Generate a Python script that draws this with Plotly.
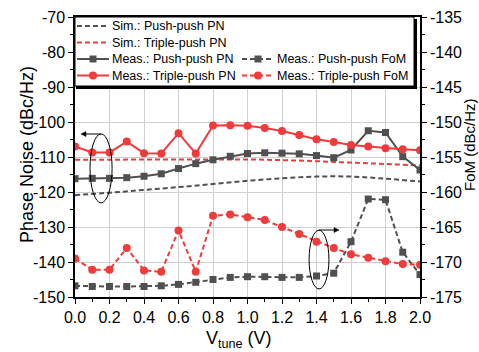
import plotly.graph_objects as go

# ---- data ----
v_meas = [0.0, 0.1, 0.2, 0.3, 0.4, 0.5, 0.6, 0.7, 0.8, 0.9, 1.0,
          1.1, 1.2, 1.3, 1.4, 1.5, 1.6, 1.7, 1.8, 1.9, 2.0]
pp_pn_meas = [-116.2, -116.1, -116.1, -115.9, -115.5, -114.8, -113.3, -111.9, -110.8, -109.8, -109.0,
              -108.8, -108.9, -109.1, -109.6, -110.2, -108.0, -102.5, -103.0, -109.9, -113.7]
tp_pn_meas = [-107.0, -108.7, -108.7, -105.6, -108.9, -109.0, -103.2, -109.0, -101.0, -100.9, -101.1,
              -101.7, -102.6, -103.7, -104.9, -105.7, -106.6, -107.0, -107.5, -107.8, -108.1]
pp_fom_meas = [-173.4, -173.5, -173.5, -173.5, -173.5, -173.4, -173.2, -172.9, -172.5, -172.2, -172.1,
               -172.1, -172.2, -172.2, -172.0, -171.6, -167.1, -161.0, -161.1, -168.6, -171.8]
tp_fom_meas = [-169.5, -171.1, -171.1, -168.0, -171.2, -171.4, -165.5, -171.4, -163.4, -163.2, -163.6,
               -164.0, -165.0, -166.0, -167.1, -168.0, -168.9, -169.4, -169.9, -170.3, -170.4]

v_sim = [0.0, 0.2, 0.4, 0.6, 0.8, 1.0, 1.2, 1.4, 1.6, 1.8, 2.0]
pp_pn_sim = [-120.9, -120.2, -119.4, -118.6, -117.7, -116.8, -116.1, -115.6, -115.6, -116.2, -117.0]
tp_pn_sim = [-110.8, -110.8, -110.7, -110.7, -110.7, -110.7, -110.9, -111.2, -111.6, -112.0, -112.4]

x_ticks = [0.0, 0.2, 0.4, 0.6, 0.8, 1.0, 1.2, 1.4, 1.6, 1.8, 2.0]
x_labels = ["0.0", "0.2", "0.4", "0.6", "0.8", "1.0", "1.2", "1.4", "1.6", "1.8", "2.0"]
pn_ticks = [-70, -80, -90, -100, -110, -120, -130, -140, -150]
pn_labels = ["-70", "-80", "-90", "-100", "-110", "-120", "-130", "-140", "-150"]
fom_ticks = [-135, -140, -145, -150, -155, -160, -165, -170, -175]
fom_labels = ["-135", "-140", "-145", "-150", "-155", "-160", "-165", "-170", "-175"]

legend_names = ["Sim.: Push-push PN", "Sim.: Triple-push PN",
                "Meas.: Push-push PN", "Meas.: Triple-push PN",
                "Meas.: Push-push FoM", "Meas.: Triple-push FoM"]

# ---- style ----
GRAY = "#505050"
RED = "#EF3B3B"
FONT = "Arial, Liberation Sans, sans-serif"
DASH = "5px,3px"

W, H = 479, 352
ML, MR, MT, MB = 75, 59, 17, 55
PW, PH = W - ML - MR, H - MT - MB


def px(x):
    return (x - ML) / PW


def py(y):
    return (H - MB - y) / PH


fig = go.Figure()

fig.add_trace(go.Scatter(x=v_sim, y=pp_pn_sim, mode="lines", line=dict(color=GRAY, width=2, dash=DASH, shape="spline"),
                         name=legend_names[0], showlegend=False))
fig.add_trace(go.Scatter(x=v_sim, y=tp_pn_sim, mode="lines", line=dict(color=RED, width=2, dash=DASH, shape="spline"),
                         name=legend_names[1], showlegend=False))
fig.add_trace(go.Scatter(x=v_meas, y=pp_pn_meas, mode="lines+markers", line=dict(color=GRAY, width=2),
                         marker=dict(symbol="square", size=7, color=GRAY), name=legend_names[2], showlegend=False))
fig.add_trace(go.Scatter(x=v_meas, y=tp_pn_meas, mode="lines+markers", line=dict(color=RED, width=2),
                         marker=dict(symbol="circle", size=8, color=RED), name=legend_names[3], showlegend=False))
fig.add_trace(go.Scatter(x=v_meas, y=pp_fom_meas, mode="lines+markers", yaxis="y2",
                         line=dict(color=GRAY, width=2, dash=DASH),
                         marker=dict(symbol="square", size=7, color=GRAY), name=legend_names[4], showlegend=False))
fig.add_trace(go.Scatter(x=v_meas, y=tp_fom_meas, mode="lines+markers", yaxis="y2",
                         line=dict(color=RED, width=2, dash=DASH),
                         marker=dict(symbol="circle", size=8, color=RED), name=legend_names[5], showlegend=False))

shapes = []
annotations = []

# legend box with drop shadow
shapes.append(dict(type="rect", xref="paper", yref="paper", layer="above",
                   x0=px(76), x1=px(417), y0=py(89), y1=py(19),
                   fillcolor="black", line=dict(width=0)))
shapes.append(dict(type="rect", xref="paper", yref="paper", layer="above",
                   x0=px(75), x1=px(414), y0=py(86), y1=py(17),
                   fillcolor="white", line=dict(color="black", width=1)))

legend_style = [
    (GRAY, DASH, None),
    (RED, DASH, None),
    (GRAY, "solid", "square"),
    (RED, "solid", "circle"),
    (GRAY, DASH, "square"),
    (RED, DASH, "circle"),
]
legend_pos = [(77, 26), (77, 42.5), (77, 59), (77, 75.5), (242, 59), (242, 75.5)]
for name, (col, dash, sym), (lx, ly) in zip(legend_names, legend_style, legend_pos):
    shapes.append(dict(type="line", xref="paper", yref="paper", layer="above",
                       x0=px(lx), x1=px(lx + 32), y0=py(ly), y1=py(ly),
                       line=dict(color=col, width=2, dash=dash)))
    cx = lx + 16
    if sym == "square":
        shapes.append(dict(type="rect", xref="paper", yref="paper", layer="above",
                           x0=px(cx - 3.5), x1=px(cx + 3.5), y0=py(ly + 3.5), y1=py(ly - 3.5),
                           fillcolor=col, line=dict(width=0)))
    elif sym == "circle":
        shapes.append(dict(type="circle", xref="paper", yref="paper", layer="above",
                           x0=px(cx - 4), x1=px(cx + 4), y0=py(ly + 4), y1=py(ly - 4),
                           fillcolor=col, line=dict(width=0)))
    annotations.append(dict(xref="paper", yref="paper", x=px(lx + 33), y=py(ly),
                            xanchor="left", yanchor="middle", showarrow=False,
                            text=name, font=dict(family=FONT, size=12.5, color="black")))


def arrow(x_tail, x_head, y, length_px=5, half_px=2.5):
    """Horizontal arrow in pixel space: a line plus a filled triangular head."""
    d = 1 if x_head > x_tail else -1
    shapes.append(dict(type="line", xref="paper", yref="paper",
                       x0=px(x_tail), x1=px(x_head - d * length_px), y0=py(y), y1=py(y),
                       line=dict(color="black", width=1)))
    path = "M {} {} L {} {} L {} {} Z".format(
        px(x_head), py(y),
        px(x_head - d * length_px), py(y - half_px),
        px(x_head - d * length_px), py(y + half_px))
    shapes.append(dict(type="path", xref="paper", yref="paper", path=path,
                       fillcolor="black", line=dict(color="black", width=0.5)))


# ellipses grouping each curve set with its axis
shapes.append(dict(type="circle", xref="x", yref="y", x0=0.087, x1=0.215, y0=-123.1, y1=-103.4,
                   line=dict(color="black", width=1)))
shapes.append(dict(type="circle", xref="x", yref="y", x0=1.357, x1=1.472, y0=-147.7, y1=-130.9,
                   line=dict(color="black", width=1)))
arrow(101, 81, 134)
arrow(319, 339, 230)

# axis titles
annotations.append(dict(xref="paper", yref="paper", x=px(27), y=py(155), text="Phase Noise (dBc/Hz)",
                        textangle=-90, showarrow=False, xanchor="center", yanchor="middle",
                        font=dict(family=FONT, size=18, color="black")))
annotations.append(dict(xref="paper", yref="paper", x=px(469), y=py(145), text="FoM (dBc/Hz)",
                        textangle=-90, showarrow=False, xanchor="center", yanchor="middle",
                        font=dict(family=FONT, size=15, color="black")))
annotations.append(dict(xref="paper", yref="paper", x=px(239), y=py(339), text="V<sub>tune</sub> (V)",
                        showarrow=False, xanchor="center", yanchor="middle",
                        font=dict(family=FONT, size=18, color="black")))

fig.update_layout(
    width=W, height=H,
    margin=dict(l=ML, r=MR, t=MT, b=MB, autoexpand=False),
    paper_bgcolor="white", plot_bgcolor="white",
    font=dict(family=FONT, size=16, color="black"),
    showlegend=False,
    shapes=shapes,
    annotations=annotations,
    xaxis=dict(range=[0, 2.0], tickvals=x_ticks, ticktext=x_labels,
               showgrid=True, gridcolor="#D0D0D0", gridwidth=1,
               showline=True, linecolor="black", linewidth=1.5, mirror=True,
               ticks="outside", ticklen=5, tickwidth=1.2, tickcolor="black",
               minor=dict(dtick=0.1, ticks="outside", ticklen=3, tickcolor="black", showgrid=False),
               zeroline=False),
    yaxis=dict(range=[-150, -70], tickvals=pn_ticks, ticktext=pn_labels,
               showgrid=True, gridcolor="#D0D0D0", gridwidth=1,
               showline=True, linecolor="black", linewidth=1.5,
               ticks="outside", ticklen=5, tickwidth=1.2, tickcolor="black",
               minor=dict(dtick=5, ticks="outside", ticklen=3, tickcolor="black", showgrid=False),
               zeroline=False),
    yaxis2=dict(range=[-175, -135], tickvals=fom_ticks, ticktext=fom_labels,
                overlaying="y", side="right", showgrid=False,
                showline=True, linecolor="black", linewidth=1.5,
                ticks="outside", ticklen=5, tickwidth=1.2, tickcolor="black",
                minor=dict(dtick=2.5, ticks="outside", ticklen=3, tickcolor="black"),
                zeroline=False),
)

fig.write_html("out.html")
